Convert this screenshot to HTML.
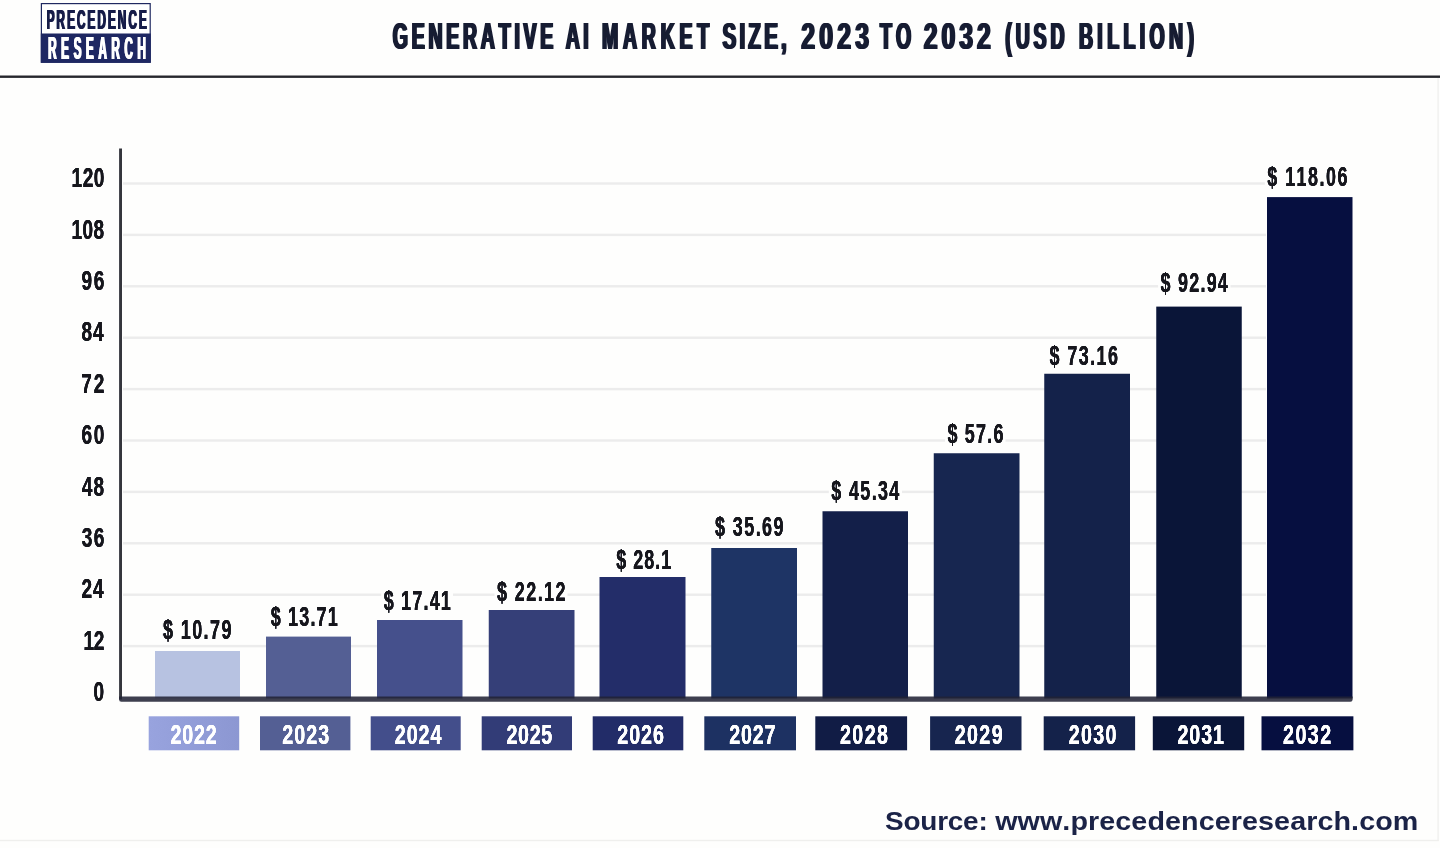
<!DOCTYPE html>
<html lang="en">
<head>
<meta charset="utf-8">
<title>Generative AI Market Size, 2023 to 2032 (USD Billion)</title>
<style>
html,body{margin:0;padding:0;background:#fefefd;}
body{width:1440px;height:848px;overflow:hidden;}
svg{display:block;}
text{font-family:"Liberation Sans",sans-serif;font-weight:700;font-kerning:none;white-space:pre;}
</style>
</head>
<body>
<svg width="1440" height="848" viewBox="0 0 1440 848">
<defs>
<linearGradient id="g22" x1="0" x2="1" y1="0" y2="0"><stop offset="0" stop-color="#98a3de"/><stop offset="1" stop-color="#8c97d2"/></linearGradient>
<filter id="fat1" x="-5%" y="-20%" width="110%" height="140%"><feOffset in="SourceGraphic" dx="0.7" result="a"/><feOffset in="SourceGraphic" dx="-0.7" result="b"/><feMerge><feMergeNode in="a"/><feMergeNode in="b"/><feMergeNode in="SourceGraphic"/></feMerge></filter>
<filter id="fat2" x="-5%" y="-20%" width="110%" height="140%"><feOffset in="SourceGraphic" dx="0.3" result="a"/><feOffset in="SourceGraphic" dx="-0.3" result="b"/><feMerge><feMergeNode in="a"/><feMergeNode in="b"/><feMergeNode in="SourceGraphic"/></feMerge></filter>
<filter id="fat3" x="-5%" y="-20%" width="110%" height="140%"><feOffset in="SourceGraphic" dx="0.5" result="a"/><feOffset in="SourceGraphic" dx="-0.5" result="b"/><feMerge><feMergeNode in="a"/><feMergeNode in="b"/><feMergeNode in="SourceGraphic"/></feMerge></filter>
<filter id="fat4" x="-5%" y="-20%" width="110%" height="140%"><feOffset in="SourceGraphic" dx="0.15" result="a"/><feOffset in="SourceGraphic" dx="-0.15" result="b"/><feMerge><feMergeNode in="a"/><feMergeNode in="b"/><feMergeNode in="SourceGraphic"/></feMerge></filter>
</defs>
<rect x="0" y="0" width="1440" height="848" fill="#fefefd"/>
<rect x="1437.4" y="78" width="1.4" height="763" fill="#f1f1ef"/>
<rect x="0" y="839.8" width="1438.8" height="1.4" fill="#efefed"/>
<rect x="0" y="75.5" width="1440" height="2.4" fill="#26272d"/>
<rect x="41.4" y="3.6" width="108.8" height="58.6" fill="#ffffff" stroke="#1f2860" stroke-width="1.2"/>
<rect x="40.8" y="33.5" width="110" height="29.3" fill="#1e2762"/>
<g filter="url(#fat3)">
<text transform="translate(46.23 28.70) scale(0.4300 1)" font-size="27.62" letter-spacing="4.562" fill="#191f48">PRECEDENCE</text>
<text transform="translate(47.73 59.30) scale(0.3700 1)" font-size="31.83" letter-spacing="12.292" fill="#ffffff">RESEARCH</text>
</g>
<g filter="url(#fat1)">
<text transform="translate(392.72 48.80) scale(0.5200 1)" font-size="37.50" letter-spacing="7.245" fill="#151a30">GENERATIVE</text>
<text transform="translate(565.71 48.80) scale(0.5200 1)" font-size="37.50" letter-spacing="6.837" fill="#151a30">AI</text>
<text transform="translate(601.93 48.80) scale(0.5200 1)" font-size="37.50" letter-spacing="9.192" fill="#151a30">MARKET</text>
<text transform="translate(722.48 48.80) scale(0.5500 1)" font-size="37.50" letter-spacing="5.815" fill="#151a30">SIZE,</text>
<text transform="translate(801.16 48.80) scale(0.6600 1)" font-size="37.50" letter-spacing="6.497" fill="#151a30">2023</text>
<text transform="translate(880.11 48.80) scale(0.5200 1)" font-size="37.50" letter-spacing="7.827" fill="#151a30">TO</text>
<text transform="translate(923.76 48.80) scale(0.6600 1)" font-size="37.50" letter-spacing="6.042" fill="#151a30">2032</text>
<text transform="translate(1005.32 48.80) scale(0.5200 1)" font-size="37.50" letter-spacing="7.423" fill="#151a30">(USD</text>
<text transform="translate(1078.93 48.80) scale(0.5200 1)" font-size="37.50" letter-spacing="8.382" fill="#151a30">BILLION)</text>
</g>
<rect x="123" y="182.30" width="1143" height="2.4" fill="#ececec"/>
<rect x="123" y="233.70" width="1143" height="2.4" fill="#ececec"/>
<rect x="123" y="285.10" width="1143" height="2.4" fill="#ececec"/>
<rect x="123" y="336.50" width="1143" height="2.4" fill="#ececec"/>
<rect x="123" y="387.90" width="1143" height="2.4" fill="#ececec"/>
<rect x="123" y="439.30" width="1143" height="2.4" fill="#ececec"/>
<rect x="123" y="490.70" width="1143" height="2.4" fill="#ececec"/>
<rect x="123" y="542.10" width="1143" height="2.4" fill="#ececec"/>
<rect x="123" y="593.50" width="1143" height="2.4" fill="#ececec"/>
<rect x="123" y="644.90" width="1143" height="2.4" fill="#ececec"/>
<g filter="url(#fat4)">
<text transform="translate(71.55 187.10) scale(0.6900 1)" font-size="27.68" letter-spacing="0.732" fill="#15161c">120</text>
<text transform="translate(71.55 238.50) scale(0.6900 1)" font-size="27.68" letter-spacing="0.594" fill="#15161c">108</text>
<text transform="translate(81.53 289.90) scale(0.6900 1)" font-size="27.68" letter-spacing="2.375" fill="#15161c">96</text>
<text transform="translate(81.53 341.30) scale(0.6900 1)" font-size="27.68" letter-spacing="1.406" fill="#15161c">84</text>
<text transform="translate(81.34 392.70) scale(0.6900 1)" font-size="27.68" letter-spacing="2.652" fill="#15161c">72</text>
<text transform="translate(81.43 444.10) scale(0.6900 1)" font-size="27.68" letter-spacing="2.513" fill="#15161c">60</text>
<text transform="translate(81.81 495.50) scale(0.6900 1)" font-size="27.68" letter-spacing="1.683" fill="#15161c">48</text>
<text transform="translate(81.72 546.90) scale(0.6900 1)" font-size="27.68" letter-spacing="2.098" fill="#15161c">36</text>
<text transform="translate(81.53 598.30) scale(0.6900 1)" font-size="27.68" letter-spacing="1.406" fill="#15161c">24</text>
<text transform="translate(83.55 649.70) scale(0.6900 1)" font-size="27.68" letter-spacing="-0.563" fill="#15161c">12</text>
<text transform="translate(93.47 701.10) scale(0.6900 1)" font-size="27.68" letter-spacing="0.000" fill="#15161c">0</text>
</g>
<rect x="155" y="651" width="85" height="47.5" fill="#b7c2e1"/>
<rect x="266" y="636.6" width="85" height="61.89999999999998" fill="#545f94"/>
<rect x="377" y="620" width="85.5" height="78.5" fill="#45508c"/>
<rect x="488.75" y="610" width="85.75" height="88.5" fill="#353f78"/>
<rect x="599.5" y="577" width="86.0" height="121.5" fill="#232d69"/>
<rect x="711.25" y="548" width="85.75" height="150.5" fill="#1e3465"/>
<rect x="822.5" y="511.25" width="85.5" height="187.25" fill="#131f49"/>
<rect x="933.75" y="453.25" width="85.75" height="245.25" fill="#172650"/>
<rect x="1044.25" y="373.75" width="85.75" height="324.75" fill="#14224a"/>
<rect x="1156.25" y="306.6" width="85.5" height="391.9" fill="#0a1538"/>
<rect x="1267" y="197.1" width="85.5" height="501.4" fill="#060f40"/>
<rect x="119.1" y="148.5" width="2.9" height="551" fill="#34353c"/>
<path d="M119.1 696.6 H1352.6 V699.6 Q1352.6 701.8 1350.4 701.8 H121.3 Q119.1 701.8 119.1 699.6 Z" fill="#212335" fill-opacity="0.87"/>
<rect x="160.6" y="616.2" width="72.8" height="26" fill="#fefefd"/>
<rect x="268.2" y="603.9" width="71.6" height="26" fill="#fefefd"/>
<rect x="381.2" y="587.5" width="71.8" height="26" fill="#fefefd"/>
<rect x="494.5" y="578.0" width="73.0" height="26" fill="#fefefd"/>
<rect x="613.8" y="546.3" width="59.6" height="26" fill="#fefefd"/>
<rect x="712.5" y="513.8" width="73.0" height="26" fill="#fefefd"/>
<rect x="828.8" y="477.5" width="73.2" height="26" fill="#fefefd"/>
<rect x="945.0" y="420.0" width="60.5" height="26" fill="#fefefd"/>
<rect x="1047.0" y="342.0" width="73.0" height="26" fill="#fefefd"/>
<rect x="1158.1" y="269.7" width="72.4" height="26" fill="#fefefd"/>
<rect x="1264.8" y="163.6" width="84.6" height="26" fill="#fefefd"/>
<g filter="url(#fat4)">
<text transform="translate(163.07 638.75) scale(0.6600 1)" font-size="27.20" letter-spacing="2.131" fill="#15161c">$ 10.79</text>
<text transform="translate(270.72 626.40) scale(0.6600 1)" font-size="27.20" letter-spacing="1.795" fill="#15161c">$ 13.71</text>
<text transform="translate(383.72 610.00) scale(0.6600 1)" font-size="27.20" letter-spacing="1.820" fill="#15161c">$ 17.41</text>
<text transform="translate(496.97 600.50) scale(0.6600 1)" font-size="27.20" letter-spacing="2.181" fill="#15161c">$ 22.12</text>
<text transform="translate(616.22 568.80) scale(0.6600 1)" font-size="27.20" letter-spacing="1.537" fill="#15161c">$ 28.1</text>
<text transform="translate(714.97 536.25) scale(0.6600 1)" font-size="27.20" letter-spacing="2.181" fill="#15161c">$ 35.69</text>
<text transform="translate(831.22 500.00) scale(0.6600 1)" font-size="27.20" letter-spacing="2.086" fill="#15161c">$ 45.34</text>
<text transform="translate(947.47 442.50) scale(0.6600 1)" font-size="27.20" letter-spacing="1.849" fill="#15161c">$ 57.6</text>
<text transform="translate(1049.47 364.50) scale(0.6600 1)" font-size="27.20" letter-spacing="2.181" fill="#15161c">$ 73.16</text>
<text transform="translate(1160.57 292.20) scale(0.6600 1)" font-size="27.20" letter-spacing="1.871" fill="#15161c">$ 92.94</text>
<text transform="translate(1267.27 186.10) scale(0.6600 1)" font-size="27.20" letter-spacing="2.224" fill="#15161c">$ 118.06</text>
</g>
<rect x="148.7" y="716.3" width="90.5" height="34" fill="url(#g22)"/>
<rect x="260" y="716.3" width="90.4" height="34" fill="#545f94"/>
<rect x="370.7" y="716.3" width="90.0" height="34" fill="#434e8b"/>
<rect x="481.7" y="716.3" width="90.3" height="34" fill="#323c77"/>
<rect x="592.7" y="716.3" width="90.6" height="34" fill="#222c68"/>
<rect x="704.3" y="716.3" width="91.7" height="34" fill="#1d3162"/>
<rect x="815.3" y="716.3" width="91.8" height="34" fill="#111c45"/>
<rect x="930.1" y="716.3" width="91.4" height="34" fill="#17254f"/>
<rect x="1043.7" y="716.3" width="91.4" height="34" fill="#14224a"/>
<rect x="1152.8" y="716.3" width="91.4" height="34" fill="#0a1538"/>
<rect x="1261.5" y="716.3" width="91.9" height="34" fill="#060f40"/>
<g filter="url(#fat2)">
<text transform="translate(170.51 743.80) scale(0.7200 1)" font-size="27.40" letter-spacing="1.104" fill="#ffffff">2022</text>
<text transform="translate(282.21 743.80) scale(0.7200 1)" font-size="27.40" letter-spacing="1.428" fill="#ffffff">2023</text>
<text transform="translate(394.71 743.80) scale(0.7200 1)" font-size="27.40" letter-spacing="1.340" fill="#ffffff">2024</text>
<text transform="translate(506.41 743.80) scale(0.7200 1)" font-size="27.40" letter-spacing="0.920" fill="#ffffff">2025</text>
<text transform="translate(617.21 743.80) scale(0.7200 1)" font-size="27.40" letter-spacing="1.335" fill="#ffffff">2026</text>
<text transform="translate(729.21 743.80) scale(0.7200 1)" font-size="27.40" letter-spacing="1.150" fill="#ffffff">2027</text>
<text transform="translate(840.01 743.80) scale(0.7200 1)" font-size="27.40" letter-spacing="1.938" fill="#ffffff">2028</text>
<text transform="translate(954.71 743.80) scale(0.7200 1)" font-size="27.40" letter-spacing="1.891" fill="#ffffff">2029</text>
<text transform="translate(1068.71 743.80) scale(0.7200 1)" font-size="27.40" letter-spacing="1.845" fill="#ffffff">2030</text>
<text transform="translate(1177.51 743.80) scale(0.7200 1)" font-size="27.40" letter-spacing="1.198" fill="#ffffff">2031</text>
<text transform="translate(1283.01 743.80) scale(0.7200 1)" font-size="27.40" letter-spacing="2.030" fill="#ffffff">2032</text>
</g>
<text transform="translate(885.10 830.20) scale(1.1000 1)" font-size="25.40" letter-spacing="-0.210" fill="#1b2347">Source:</text>
<text transform="translate(995.14 830.20) scale(1.1300 1)" font-size="25.40" letter-spacing="0.075" fill="#1b2347">www.precedenceresearch.com</text>
</svg>
</body>
</html>
